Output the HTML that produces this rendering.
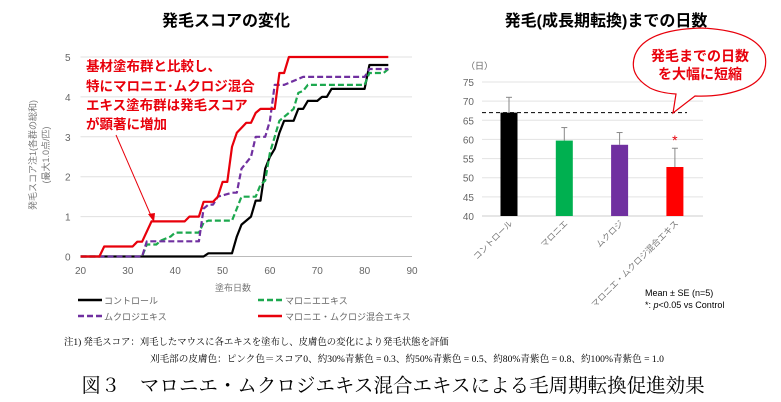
<!DOCTYPE html>
<html><head><meta charset="utf-8">
<style>
html,body{margin:0;padding:0;background:#fff;}
svg{display:block;font-family:"Liberation Sans","Noto Sans CJK JP",sans-serif;}
</style></head>
<body>
<svg id="c" width="781" height="402" viewBox="0 0 781 402" xmlns="http://www.w3.org/2000/svg">
<text x="226" y="26" font-size="16" font-weight="bold" text-anchor="middle" fill="#000">発毛スコアの変化</text>
<text x="606" y="26" font-size="16" font-weight="bold" text-anchor="middle" fill="#000">発毛(成長期転換)までの日数</text>
<g id="left"></g>
<g id="right"></g>
<g fill="#e8000b" font-size="13.5" font-weight="bold">
<text x="86" y="71">基材塗布群と比較し、</text>
<text x="86" y="91">特にマロニエ･ムクロジ混合</text>
<text x="86" y="110">エキス塗布群は発毛スコア</text>
<text x="86" y="129">が顕著に増加</text>
</g>
<line x1="116" y1="135" x2="152" y2="218" stroke="#e8000b" stroke-width="1"/>
<polygon points="154,222 148,214 155,213" fill="#e8000b"/>
<text x="233" y="291" font-size="9" fill="#777" text-anchor="middle">塗布日数</text>
<g font-size="9" fill="#666">
<g><line x1="78" y1="300" x2="102" y2="300" stroke="#000" stroke-width="2.5"/><text x="104" y="304">コントロール</text></g>
<g><line x1="258" y1="300" x2="282" y2="300" stroke="#1ca84e" stroke-width="2.5" stroke-dasharray="6,3"/><text x="285" y="304">マロニエエキス</text></g>
<g><line x1="78" y1="316" x2="102" y2="316" stroke="#7030a0" stroke-width="2.5" stroke-dasharray="6,3"/><text x="104" y="320">ムクロジエキス</text></g>
<g><line x1="258" y1="316" x2="282" y2="316" stroke="#e8000b" stroke-width="2.5"/><text x="285" y="320">マロニエ・ムクロジ混合エキス</text></g>
</g>
<g font-size="9" fill="#000">
<text x="645" y="296">Mean ± SE (n=5)</text>
<text x="645" y="308">*: <tspan font-style="italic">p</tspan>&lt;0.05 vs Control</text>
</g>
<text x="64" y="345" font-size="9.4" font-family="Liberation Serif,'Noto Serif CJK SC',serif">注1) 発毛スコア：刈毛したマウスに各エキスを塗布し、皮膚色の変化により発毛状態を評価</text>
<text x="150" y="362" font-size="9.6" font-family="Liberation Serif,'Noto Serif CJK SC',serif">刈毛部の皮膚色：ピンク色＝スコア0、約30%青紫色 = 0.3、約50%青紫色 = 0.5、約80%青紫色 = 0.8、約100%青紫色 = 1.0</text>
<text x="393" y="392" font-size="19.5" text-anchor="middle" font-family="Liberation Serif,'Noto Serif CJK SC',serif">図３　マロニエ・ムクロジエキス混合エキスによる毛周期転換促進効果</text>
<g>
<path d="M650,88 Q628,75 635,55 Q645,30 700,28 Q755,30 765,55 Q770,80 740,90 Q720,97 695,96 L673,113 L676,94 Q660,93 650,88 Z" fill="#fff" stroke="#e8000b" stroke-width="1.2"/>
<text x="700" y="61" font-size="14" font-weight="bold" fill="#e8000b" text-anchor="middle">発毛までの日数</text>
<text x="700" y="79" font-size="14" font-weight="bold" fill="#e8000b" text-anchor="middle">を大幅に短縮</text>
</g>
</svg>
<script>
// ---------- left chart data ----------
var leftXTicks = [20,30,40,50,60,70,80,90];
var leftYTicks = [0,1,2,3,4,5];
var controlDays = [20,46,47,52,53,54,56,57,58,59,60,61,62,63,65,66,67,68,70,71,72,73,80,81,85];
var controlScore = [0,0,0.08,0.08,0.5,0.8,1.0,1.4,1.4,2.2,2.5,2.7,3.1,3.4,3.4,3.7,3.7,3.9,3.9,4.0,4.0,4.2,4.2,4.8,4.8];
var maronieDays = [20,33,34,36,37,39,40,45,46,47,52,53,54,57,58,59,60,61,62,64,65,66,67,68,80,81,84,85];
var maronieScore = [0,0,0.3,0.3,0.4,0.5,0.6,0.6,0.85,0.9,0.9,1.2,1.5,1.5,1.8,1.9,2.6,3.0,3.4,3.6,3.7,4.1,4.15,4.3,4.3,4.6,4.6,4.7];
var mukurojiDays = [20,33,34,45,46,47,48,49,52,53,54,56,57,59,60,61,63,66,67,80,81,85];
var mukurojiScore = [0,0,0.38,0.38,1.2,1.3,1.3,1.5,1.6,1.6,2.2,2.5,3.0,3.0,3.4,4.3,4.3,4.45,4.5,4.5,4.7,4.7];
var mixedDays = [20,24,25,31,32,33,35,42,43,45,46,48,49,50,51,52,53,55,56,57,58,61,62,63,64,85];
var mixedScore = [0,0,0.25,0.25,0.37,0.37,0.88,0.88,1.0,1.0,1.37,1.37,1.5,1.87,1.87,2.75,3.1,3.35,3.35,3.6,3.7,3.7,4.6,4.6,5,5];

// ---------- right chart data ----------
var barCategories = ["コントロール","マロニエ","ムクロジ","マロニエ・ムクロジ混合エキス"];
var barMeans = [67,59.7,58.6,52.8];
var barErrors = [4.0,3.4,3.2,4.9];
var barColors = ["#000000","#00b050","#7030a0","#ff0000"];
var rightYTicks = [40,45,50,55,60,65,70,75];

var NS = "http://www.w3.org/2000/svg";
function mk(tag, attrs, parent){var e=document.createElementNS(NS,tag);for(var k in attrs)e.setAttribute(k,attrs[k]);parent.appendChild(e);return e;}

var L = document.getElementById('left');
function lx(v){return 80.5 + (v-20)*(412-80.5)/70;}
function ly(v){return 256.5 - v*(256.5-57)/5;}
leftYTicks.forEach(function(t){
  var g = mk('line',{x1:lx(20),x2:lx(90),y1:ly(t),y2:ly(t),stroke:t===0?'#bbb':'#e0e0e0','stroke-width':1},L);
  
  
  var tx = mk('text',{x:lx(20)-10,y:ly(t)+4,'font-size':10,fill:'#666','text-anchor':'end'},L);
  tx.textContent = t;
  
  
});
leftXTicks.forEach(function(t){
  var tx = mk('text',{x:lx(t),y:274,'font-size':10,fill:'#666','text-anchor':'middle'},L);
  tx.textContent = t;
  
  
});
var yt = mk('text',{transform:'translate(36,155) rotate(-90)','font-size':9,fill:'#777','text-anchor':'middle'},L);
yt.textContent='発毛スコア注1(各群の総和)';


var yt2 = mk('text',{transform:'translate(49,155) rotate(-90)','font-size':9,fill:'#777','text-anchor':'middle'},L);
yt2.textContent='(最大1.0点/匹)';



function series(xs, ys, color, dash, name){
  var pts = xs.map(function(x,i){return lx(x).toFixed(1)+','+ly(ys[i]).toFixed(1);}).join(' ');
  var p = mk('polyline',{points:pts,fill:'none',stroke:color,'stroke-width':2.2,'stroke-linejoin':'round'},L);
  if(dash) p.setAttribute('stroke-dasharray','6,3');
  
  
}
series(controlDays,controlScore,'#000',false,'series-control');
series(maronieDays,maronieScore,'#1ca84e',true,'series-maronie');
series(mukurojiDays,mukurojiScore,'#7030a0',true,'series-mukuroji');
series(mixedDays,mixedScore,'#e8000b',false,'series-mixed');

var R = document.getElementById('right');
function ry(v){return 216 - (v-40)*(216-82)/35;}
var bx0 = 482, bx1 = 703;
function bxc(i){return 509 + i*55.3;}
var unit = mk('text',{x:466,y:69,'font-size':9,fill:'#666'},R);
unit.textContent='（日）';


rightYTicks.forEach(function(t){
  var g = mk('line',{x1:bx0,x2:bx1,y1:ry(t),y2:ry(t),stroke:t===40?'#ccc':'#e3e3e3','stroke-width':1},R);
  
  
  var tx = mk('text',{x:474,y:ry(t)+4,'font-size':10,fill:'#666','text-anchor':'end'},R);
  tx.textContent = t;
  
  
});
barMeans.forEach(function(m,i){
  var cx = bxc(i);
  var e = mk('line',{x1:cx,x2:cx,y1:ry(m),y2:ry(m+barErrors[i]),stroke:'#888','stroke-width':1},R);
  
  
  var ec = mk('line',{x1:cx-3,x2:cx+3,y1:ry(m+barErrors[i]),y2:ry(m+barErrors[i]),stroke:'#888','stroke-width':1},R);
  
  
  var b = mk('rect',{x:cx-8.5,y:ry(m),width:17,height:ry(40)-ry(m),fill:barColors[i]},R);
  
  
  var lb = mk('text',{transform:'translate('+(cx+4)+',224) rotate(-45)','font-size':8.5,fill:'#777','text-anchor':'end'},R);
  lb.textContent = barCategories[i];
  
  
});
var star = mk('text',{x:bxc(3),y:ry(barMeans[3]+barErrors[3])-3,'font-size':14,fill:'#e8000b','text-anchor':'middle'},R);
star.textContent='*';


var ref = mk('line',{x1:bx0,x2:bx1-16,y1:ry(barMeans[0]),y2:ry(barMeans[0]),stroke:'#000','stroke-width':1,'stroke-dasharray':'4,3'},R);


var ax = 686, top = ry(barMeans[0]), bot = ry(barMeans[3]) - 2;
var ptsArr = [[ax-5,top],[ax+5,top],[ax+5,bot-12],[ax+10,bot-12],[ax,bot],[ax-10,bot-12],[ax-5,bot-12]];
var arr = mk('polygon',{points:ptsArr.map(function(p){return p[0].toFixed(1)+','+p[1].toFixed(1);}).join(' '),fill:'#fff',stroke:'#000','stroke-width':1.2},R);


</script>
</body></html>
